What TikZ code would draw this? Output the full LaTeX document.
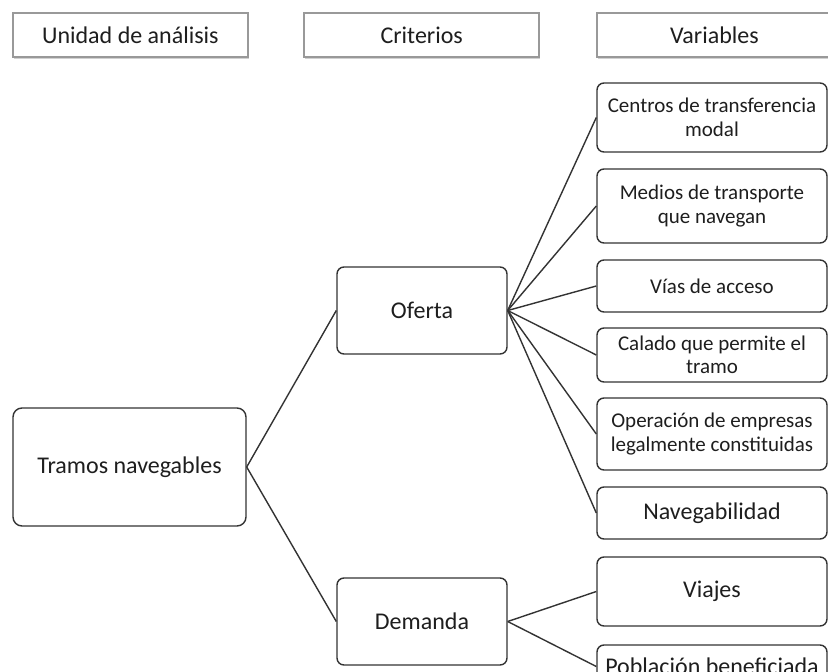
\documentclass[tikz,border=0pt]{standalone}
\usepackage{fontspec}
\setmainfont{Carlito}
\usetikzlibrary{shadows}
\definecolor{txt}{HTML}{1E1E1E}
\definecolor{edge}{HTML}{333333}
\definecolor{hdredge}{HTML}{999999}
\tikzset{
  hdr/.style={draw=hdredge, line width=1.6pt, fill=white, minimum width=235pt, minimum height=44pt,
    inner sep=0pt, text=txt, font=\fontsize{24}{28}\selectfont,
    drop shadow={shadow xshift=0.8pt, shadow yshift=-1.5pt, fill=gray!45, opacity=0.8}},
  rbox/.style={draw=edge, line width=1.4pt, rounded corners=7pt, fill=white, inner sep=0pt,
    text=txt, align=center},
  big/.style={rbox, font=\fontsize{24}{28}\selectfont},
  varbig/.style={rbox, minimum width=230pt, font=\fontsize{24}{28}\selectfont},
  varsm/.style={rbox, minimum width=230pt, font=\fontsize{21}{23.5}\selectfont},
  link/.style={draw=edge, line width=1.4pt},
}
\begin{document}
\begin{tikzpicture}[x=1pt, y=-1pt]
\useasboundingbox (0,0) rectangle (828,672);
\fill[white] (0,0) rectangle (828,672);
% headers
\node[hdr] (h1) at (130.4,35) {Unidad de análisis};
\node[hdr] (h2) at (421.7,35) {Criterios};
\node[hdr] (h3) at (714.5,35) {Variables};
% main boxes
\node[big, minimum width=233pt, minimum height=118pt, rounded corners=9pt] (tramos) at (129.5,467) {Tramos navegables};
\node[big, minimum width=170pt, minimum height=87pt] (oferta) at (422,310.5) {Oferta};
\node[big, minimum width=170pt, minimum height=87pt] (demanda) at (422,621.5) {Demanda};
% variables
\node[varsm, minimum height=69pt] (v1) at (712,117.5) {Centros de transferencia\\modal};
\node[varsm, minimum height=74pt] (v2) at (712,206) {Medios de transporte\\que navegan};
\node[varsm, minimum height=52pt] (v3) at (712,286) {Vías de acceso};
\node[varsm, minimum height=54pt] (v4) at (712,355) {Calado que permite el\\tramo};
\node[varsm, minimum height=72pt] (v5) at (712,434) {Operación de empresas\\legalmente constituidas};
\node[varbig, minimum height=52pt] (v6) at (712,513) {Navegabilidad};
\node[varbig, minimum height=69pt] (v7) at (712,591.5) {Viajes};
\node[varbig, minimum height=43pt] (v8) at (712,666.5) {Población beneficiada};
% connectors
\draw[link] (tramos.east) -- (oferta.west);
\draw[link] (tramos.east) -- (demanda.west);
\foreach \v in {v1,v2,v3,v4,v5,v6} \draw[link] (oferta.east) -- (\v.west);
\draw[link] (demanda.east) -- (v7.west);
\draw[link] (demanda.east) -- (v8.west);
\end{tikzpicture}
\end{document}
